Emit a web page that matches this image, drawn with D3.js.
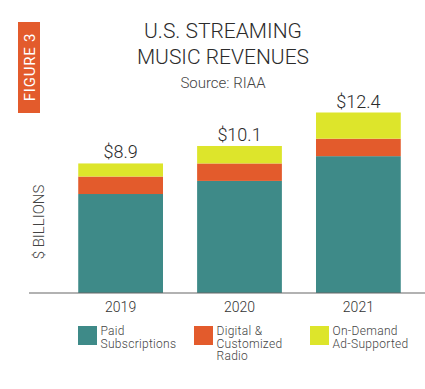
<!DOCTYPE html>
<html>
<head>
<meta charset="utf-8">
<script src="https://cdn.jsdelivr.net/npm/d3@7"></script>
<style>
  body { margin: 0; background: #fff; }
  text { font-family: Roboto, "DejaVu Sans", sans-serif; }
</style>
</head>
<body>
<div id="chart"></div>
<script>
// Data
var years = ['2019', '2020', '2021'];
var paidSubs = [6.8, 7.7, 9.4];
var digitalRadio = [1.2, 1.2, 1.2];
var adSupported = [0.9, 1.2, 1.8];
var totals = ['$8.9', '$10.1', '$12.4'];
var seriesKeys = ['paid', 'radio', 'ads'];
var seriesNames = [['Paid', 'Subscriptions'], ['Digital &', 'Customized', 'Radio'], ['On-Demand', 'Ad-Supported']];
var colors = ['#3e8a88', '#e35b2c', '#dde52b'];

var width = 425, height = 389;
var baseline = 293;

var data = years.map((y, i) => ({ year: y, paid: paidSubs[i], radio: digitalRadio[i], ads: adSupported[i] }));
var stackData = d3.stack().keys(seriesKeys)(data);

var xScale = d3.scaleBand()
  .domain(years)
  .range([61, 418])
  .paddingInner(0.287)
  .paddingOuter(0.145);

var yScale = d3.scaleLinear()
  .domain([0, 12.4])
  .range([baseline, baseline - 180.5]);

var svg = d3.select('#chart')
  .append('svg')
  .attr('width', width)
  .attr('height', height);

// Figure tag
svg.append('rect')
  .attr('x', 18).attr('y', 22).attr('width', 22).attr('height', 91)
  .attr('fill', '#e35b2c');
svg.append('text')
  .attr('transform', 'translate(34.5,67) rotate(-90)')
  .attr('text-anchor', 'middle')
  .attr('fill', '#fff')
  .style('font-size', '15px')
  .style('letter-spacing', '0.8px')
  .text('FIGURE 3');

// Titles
svg.append('text')
  .attr('x', 223).attr('y', 37.5)
  .attr('text-anchor', 'middle')
  .attr('fill', '#2b2b2b')
  .style('font-size', '21px')
  .style('font-weight', 300)
  .text('U.S. STREAMING');
svg.append('text')
  .attr('x', 223).attr('y', 63.5)
  .attr('text-anchor', 'middle')
  .attr('fill', '#2b2b2b')
  .style('font-size', '21px')
  .style('font-weight', 300)
  .text('MUSIC REVENUES');
svg.append('text')
  .attr('x', 223).attr('y', 88)
  .attr('text-anchor', 'middle')
  .attr('fill', '#444')
  .style('font-size', '15px')
  .style('font-weight', 300)
  .text('Source: RIAA');

// Y label
svg.append('text')
  .attr('transform', 'translate(43.5,222) rotate(-90)')
  .attr('text-anchor', 'middle')
  .attr('fill', '#444')
  .style('font-size', '15px')
  .style('font-weight', 300)
  .text('$ BILLIONS');

// Bars
var groups = svg.selectAll('g.series')
  .data(stackData)
  .enter()
  .append('g')
  .attr('class', 'series')
  .style('fill', (d, i) => colors[i]);

groups.selectAll('rect')
  .data(d => d)
  .enter()
  .append('rect')
  .attr('x', d => xScale(d.data.year))
  .attr('y', d => yScale(d[1]))
  .attr('height', d => yScale(d[0]) - yScale(d[1]))
  .attr('width', xScale.bandwidth());

// Totals
svg.selectAll('text.total')
  .data(data)
  .enter()
  .append('text')
  .attr('class', 'total')
  .attr('x', d => xScale(d.year) + xScale.bandwidth() / 2)
  .attr('y', (d, i) => yScale(d.paid + d.radio + d.ads) - 5)
  .attr('text-anchor', 'middle')
  .attr('fill', '#2b2b2b')
  .style('font-size', '18px')
  .style('font-weight', 300)
  .text((d, i) => totals[i]);

// Axis
var xAxis = svg.append('g')
  .attr('transform', 'translate(0,' + baseline + ')')
  .call(d3.axisBottom(xScale).tickSize(0).tickPadding(9));
xAxis.select('.domain').remove();
xAxis.append('line')
  .attr('x1', 29).attr('x2', 425)
  .attr('stroke', '#666').attr('stroke-width', 1.2);
xAxis.selectAll('.tick text')
  .attr('fill', '#333')
  .style('font-size', '14px')
  .style('font-weight', 300)
  .style('font-family', 'Roboto, sans-serif');

// Legend
var legendX = [78, 194, 310];
var legend = svg.selectAll('g.legend')
  .data(seriesNames)
  .enter()
  .append('g')
  .attr('class', 'legend')
  .attr('transform', (d, i) => 'translate(' + legendX[i] + ',326)');
legend.append('rect')
  .attr('width', 19).attr('height', 19)
  .attr('fill', (d, i) => colors[i]);
legend.each(function (d) {
  d3.select(this).selectAll('text')
    .data(d)
    .enter()
    .append('text')
    .attr('x', 22.5)
    .attr('y', (t, i) => 9 + i * 12.5)
    .attr('fill', '#444')
    .style('font-size', '12px')
    .style('font-weight', 300)
    .style('letter-spacing', '0.3px')
    .text(t => t);
});
</script>
</body>
</html>
